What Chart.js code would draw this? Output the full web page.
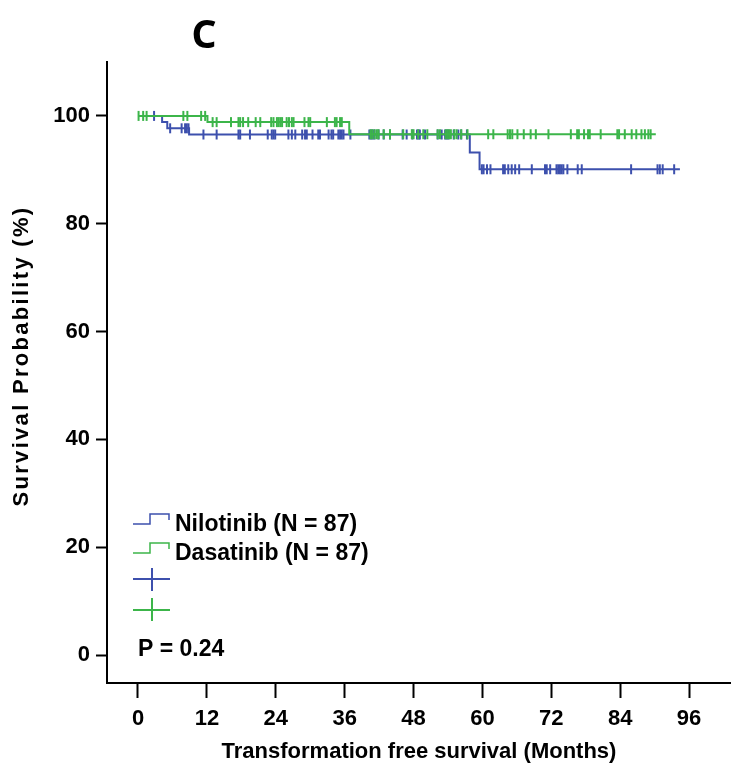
<!DOCTYPE html>
<html lang="en">
<head>
  <meta charset="UTF-8" />
  <title>Transformation free survival</title>
  <script src="https://cdn.jsdelivr.net/npm/chart.js"></script>
  <style>
    body {
      margin: 0;
      padding: 0;
      background: #fff;
    }
    #box {
      width: 731px;
      height: 773px;
    }
  </style>
</head>
<body>
  <div id="box"><canvas id="km" width="731" height="773"></canvas></div>
  <script>
    // ticks
    const xTicks = [0, 12, 24, 36, 48, 60, 72, 84, 96];
    const yTicks = [0, 20, 40, 60, 80, 100];

    // Nilotinib: event times (months) and survival after each event (%)
    const niloEventTimes = [4.2, 5.1, 8.9, 57.8, 59.5];
    const niloSurv = [98.85, 97.7, 96.55, 93.2, 90.1];
    const niloLastFollowUp = 94.4;
    const niloCensored = [2.8, 5.6, 7.6, 8.2, 8.5, 8.8, 11.4, 13.7, 17.5, 17.8, 19.5, 22.6, 23.3, 23.6, 23.9,
      26.2, 26.8, 27.4, 28.6, 29.1, 29.4, 30.4, 31.4, 31.7, 33.2, 33.7, 34.0, 34.9, 35.2, 35.5, 35.8, 37.0,
      40.3, 40.6, 40.9, 41.2, 41.9, 42.8, 43.9, 46.1, 46.8, 47.8, 48.6, 48.9, 49.1, 50.0, 52.2, 52.9, 53.5,
      53.8, 54.1, 55.0, 55.8, 56.3, 57.3, 59.9, 60.2, 60.8, 61.4, 63.6, 63.9, 64.5, 65.1, 65.7, 66.4, 68.6,
      70.9, 71.2, 71.8, 72.9, 73.2, 73.5, 73.8, 74.1, 74.8, 76.6, 77.3, 85.9, 90.5, 90.9, 91.4, 93.4];

    // Dasatinib
    const dasaEventTimes = [12.1, 36.8];
    const dasaSurv = [98.85, 96.6];
    const dasaLastFollowUp = 90.2;
    const dasaCensored = [0.1, 0.9, 1.5, 7.9, 8.6, 11.0, 11.7, 13.0, 13.7, 16.2, 17.5, 17.8, 18.3, 19.2, 20.5,
      21.3, 23.2, 23.6, 24.2, 24.5, 24.8, 25.1, 25.9, 26.3, 26.8, 27.1, 29.0, 29.7, 30.0, 32.9, 34.3, 34.6,
      35.2, 35.5, 40.5, 40.8, 41.2, 41.6, 41.9, 42.8, 43.9, 46.2, 47.7, 48.0, 48.8, 49.7, 50.4, 52.2, 52.6,
      53.6, 53.9, 54.2, 54.5, 55.1, 55.5, 56.3, 57.4, 61.0, 61.9, 64.4, 64.8, 65.2, 66.1, 67.2, 68.4, 69.3,
      71.5, 75.4, 76.5, 76.8, 77.7, 78.4, 78.7, 80.6, 83.5, 83.8, 84.8, 86.0, 86.8, 87.7, 88.3, 88.9, 89.3];

    const blue = '#3d50ad';
    const green = '#3cb54a';
    const fontFam = '"Liberation Sans", Arial, sans-serif';

    function curvePoints(times, surv, end) {
      const pts = [{ x: 0, y: 100 }];
      times.forEach((t, i) => pts.push({ x: t, y: surv[i] }));
      pts.push({ x: end, y: surv[surv.length - 1] });
      return pts;
    }

    function survAt(times, surv, t) {
      let s = 100;
      times.forEach((et, i) => { if (et <= t) s = surv[i]; });
      return s;
    }

    function censorPoints(cens, times, surv) {
      return cens.map(t => ({ x: t, y: survAt(times, surv, t) }));
    }

    // legend, p value, y title and panel letter
    const extras = {
      id: 'extras',
      afterDraw(chart) {
        const ctx = chart.ctx;
        ctx.save();
        ctx.lineWidth = 1.5;

        ctx.strokeStyle = blue;
        ctx.beginPath();
        ctx.moveTo(133, 524); ctx.lineTo(150, 524); ctx.lineTo(150, 514);
        ctx.lineTo(169, 514); ctx.lineTo(169, 520);
        ctx.stroke();
        ctx.strokeStyle = green;
        ctx.beginPath();
        ctx.moveTo(133, 553); ctx.lineTo(150, 553); ctx.lineTo(150, 543);
        ctx.lineTo(169, 543); ctx.lineTo(169, 549);
        ctx.stroke();

        ctx.lineWidth = 2;
        ctx.strokeStyle = blue;
        ctx.beginPath();
        ctx.moveTo(133, 579); ctx.lineTo(170, 579);
        ctx.moveTo(152, 568); ctx.lineTo(152, 591);
        ctx.stroke();
        ctx.strokeStyle = green;
        ctx.beginPath();
        ctx.moveTo(133, 610); ctx.lineTo(170, 610);
        ctx.moveTo(152, 598); ctx.lineTo(152, 621);
        ctx.stroke();

        ctx.fillStyle = '#000';
        ctx.font = 'bold 23px ' + fontFam;
        ctx.textAlign = 'left';
        ctx.textBaseline = 'alphabetic';
        ctx.fillText('Nilotinib (N = 87)', 175, 531);
        ctx.fillText('Dasatinib (N = 87)', 175, 560);
        ctx.fillText('P = 0.24', 138, 656);

        // y axis title
        ctx.save();
        ctx.translate(22, 356);
        ctx.rotate(-Math.PI / 2);
        ctx.font = 'bold 22px ' + fontFam;
        ctx.letterSpacing = '2.3px';
        ctx.textAlign = 'center';
        ctx.textBaseline = 'middle';
        ctx.fillText('Survival Probability (%)', 0, 0);
        ctx.restore();

        ctx.font = 'bold 39px "Noto Sans", sans-serif';
        ctx.textAlign = 'center';
        ctx.fillText('C', 204, 48);
        ctx.restore();
      }
    };

    new Chart(document.getElementById('km'), {
      type: 'scatter',
      data: {
        datasets: [
          {
            label: 'Dasatinib (N = 87)',
            data: curvePoints(dasaEventTimes, dasaSurv, dasaLastFollowUp),
            showLine: true,
            stepped: true,
            borderColor: green,
            borderWidth: 2,
            pointRadius: 0,
            order: 1
          },
          {
            label: 'Dasatinib censored',
            data: censorPoints(dasaCensored, dasaEventTimes, dasaSurv),
            showLine: false,
            pointStyle: 'line',
            rotation: 90,
            pointRadius: 5,
            borderColor: green,
            borderWidth: 2,
            order: 2
          },
          {
            label: 'Nilotinib (N = 87)',
            data: curvePoints(niloEventTimes, niloSurv, niloLastFollowUp),
            showLine: true,
            stepped: true,
            borderColor: blue,
            borderWidth: 2,
            pointRadius: 0,
            order: 3
          },
          {
            label: 'Nilotinib censored',
            data: censorPoints(niloCensored, niloEventTimes, niloSurv),
            showLine: false,
            pointStyle: 'line',
            rotation: 90,
            pointRadius: 5,
            borderColor: blue,
            borderWidth: 2,
            order: 4
          }
        ]
      },
      options: {
        responsive: false,
        animation: false,
        layout: { autoPadding: false, padding: { top: 62, right: 0, bottom: 0, left: 0 } },
        plugins: {
          legend: { display: false },
          tooltip: { enabled: false }
        },
        scales: {
          x: {
            type: 'linear',
            min: -5.4,
            max: 103.3,
            afterBuildTicks: s => { s.ticks = xTicks.map(v => ({ value: v })); },
            afterFit: s => { s.height = 90; s.paddingLeft = 0; s.paddingRight = 0; },
            border: { display: true, color: '#000', width: 2 },
            grid: { drawOnChartArea: false, drawTicks: true, tickLength: 15, tickColor: '#000', tickWidth: 2 },
            ticks: { color: '#000', padding: 8, maxRotation: 0, font: { family: fontFam, size: 22, weight: 'bold' } },
            title: {
              display: true,
              text: 'Transformation free survival (Months)',
              color: '#000',
              padding: { top: 0, bottom: 8 },
              font: { family: fontFam, size: 22, weight: 'bold' }
            }
          },
          y: {
            type: 'linear',
            min: -5.19,
            max: 110.0,
            afterBuildTicks: s => { s.ticks = yTicks.map(v => ({ value: v })); },
            afterFit: s => { s.width = 107; s.paddingTop = 0; s.paddingBottom = 0; },
            border: { display: true, color: '#000', width: 2 },
            grid: { drawOnChartArea: false, drawTicks: true, tickLength: 11, tickColor: '#000', tickWidth: 2 },
            ticks: { color: '#000', padding: 6, font: { family: fontFam, size: 22, weight: 'bold' } }
          }
        }
      },
      plugins: [extras]
    });
  </script>
</body>
</html>
